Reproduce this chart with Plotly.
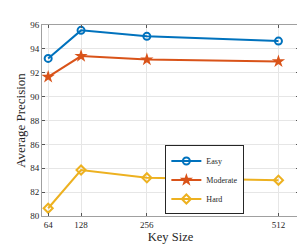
import plotly.graph_objects as go

key_size = [64, 128, 256, 512]
easy = [93.2, 95.55, 95.05, 94.65]
moderate = [91.65, 93.4, 93.1, 92.95]
hard = [80.65, 83.85, 83.2, 83.0]
y_ticks = [80, 82, 84, 86, 88, 90, 92, 94, 96]

fig = go.Figure()
fig.add_trace(go.Scatter(x=key_size, y=easy, name="Easy", mode="lines+markers",
                         line=dict(color="#0072BD", width=2),
                         marker=dict(symbol="circle-open", size=7, line=dict(width=2), color="#0072BD")))
fig.add_trace(go.Scatter(x=key_size, y=moderate, name="Moderate", mode="lines+markers",
                         line=dict(color="#D95319", width=2),
                         marker=dict(symbol="star", size=10, color="#D95319")))
fig.add_trace(go.Scatter(x=key_size, y=hard, name="Hard", mode="lines+markers",
                         line=dict(color="#EDB120", width=2),
                         marker=dict(symbol="diamond-open", size=7, line=dict(width=2), color="#EDB120")))

font = "Liberation Serif"
fig.update_layout(
    width=305, height=245,
    margin=dict(l=30, r=14, t=12, b=28),
    paper_bgcolor="white", plot_bgcolor="white",
    font=dict(family=font, size=9, color="#262626"),
    showlegend=True,
    legend=dict(x=0.48, y=0.008, xanchor="left", yanchor="bottom",
                bordercolor="#262626", borderwidth=1, bgcolor="white",
                font=dict(family=font, size=8), tracegroupgap=0,
                itemwidth=30),
)
fig.update_xaxes(range=[52, 552], tickvals=key_size, ticktext=[str(k) for k in key_size],
                 showgrid=True, gridcolor="#e6e6e6", gridwidth=1,
                 showline=True, linecolor="#a0a0a0", linewidth=1, mirror="ticks",
                 ticks="inside", ticklen=3, tickcolor="#555",
                 title=dict(text="Key Size", font=dict(family=font, size=12.5), standoff=2),
                 zeroline=False)
fig.update_yaxes(range=[80, 96], tickvals=y_ticks,
                 showgrid=True, gridcolor="#e6e6e6", gridwidth=1,
                 showline=True, linecolor="#a0a0a0", linewidth=1, mirror="ticks",
                 ticks="inside", ticklen=3, tickcolor="#555",
                 title=dict(text="Average Precision", font=dict(family=font, size=13), standoff=1),
                 zeroline=False)

fig.write_html("out.html")
